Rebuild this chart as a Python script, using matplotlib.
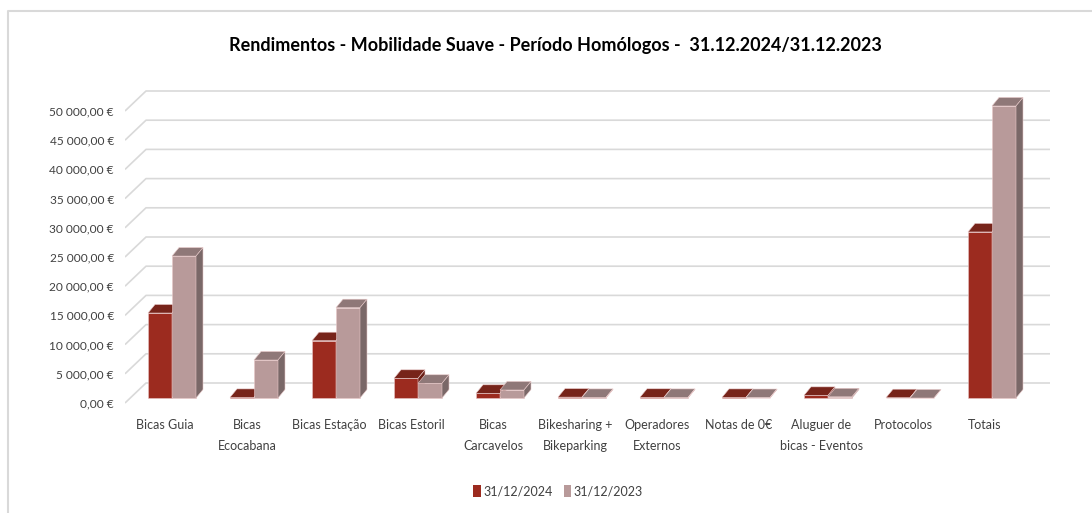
import matplotlib
matplotlib.use("Agg")
import matplotlib.pyplot as plt
from matplotlib.patches import Polygon, Patch

categories = [
    "Bicas Guia", "Bicas\nEcocabana", "Bicas Estação", "Bicas Estoril",
    "Bicas\nCarcavelos", "Bikesharing +\nBikeparking", "Operadores\nExternos",
    "Notas de 0€", "Aluguer de\nbicas - Eventos", "Protocolos", "Totais",
]
values_2024 = [14550, 100, 9810, 3370, 800, 150, 120, 100, 450, 50, 28430]
values_2023 = [24300, 6500, 15460, 2520, 1370, 100, 100, 80, 200, 0, 50000]
series_labels = ["31/12/2024", "31/12/2023"]
y_ticks = list(range(0, 50001, 5000))

FONT = ["Lato", "DejaVu Sans"]
plt.rcParams["font.family"] = FONT

# colours: front, top, side
COL_2024 = ("#9c2b1f", "#77241a", "#6a1f16")
COL_2023 = ("#b89a9a", "#8f7878", "#7a6868")
GRID = "#d9d9d9"
TXT = "#404040"

# scale helpers (pixels -> data units)
PX_CAT = 82.0
PXV = 50000 / 292.0

W, H = 1092, 513
fig = plt.figure(figsize=(W / 100, H / 100), dpi=100)
ax = fig.add_axes([125 / W, 1 - 415 / H, (1050 - 125) / W, (415 - 80) / H])
x_left, x_right = -40 / PX_CAT, 885 / PX_CAT
ax.set_xlim(x_left, x_right)
ax.set_ylim(-12 * PXV, 323 * PXV)
for s in ax.spines.values():
    s.set_visible(False)

# gridlines: short diagonal on the side wall, then flat on the back wall
back_dx, back_dy = 21 / PX_CAT, 20 * PXV
for v in y_ticks:
    ax.plot([x_left, x_left + back_dx, x_right], [v, v + back_dy, v + back_dy],
            color=GRID, lw=1.2, zorder=0, solid_capstyle="butt")

ax.set_yticks(y_ticks)
ax.set_yticklabels([f"{v:,.2f}".replace(",", " ").replace(".", ",") + " €" for v in y_ticks],
                   fontsize=8.6, color=TXT)
ax.tick_params(axis="y", length=0, pad=8)
ax.set_xticks(range(len(categories)))
ax.set_xticklabels(categories, fontsize=9, color=TXT, linespacing=1.85, va="top")
ax.tick_params(axis="x", length=0, pad=3)

# 3d-ish bars
bar_w = 24 / PX_CAT
shift_x, shift_y = 7 / PX_CAT, 5 * PXV     # bar front plane sits a bit behind the floor edge
dep_x, dep_y = 7 / PX_CAT, 8.5 * PXV       # bar depth


def draw_bar(x0, val, cols, z):
    front, top, side = cols
    y0 = shift_y
    y1 = shift_y + val
    ax.add_patch(Polygon([(x0, y0), (x0 + bar_w, y0), (x0 + bar_w, y1), (x0, y1)],
                         closed=True, fc=front, ec="#e8c8c8", lw=0.4, zorder=z))
    ax.add_patch(Polygon([(x0, y1), (x0 + bar_w, y1), (x0 + bar_w + dep_x, y1 + dep_y),
                          (x0 + dep_x, y1 + dep_y)],
                         closed=True, fc=top, ec="#e8c8c8", lw=0.4, zorder=z))
    ax.add_patch(Polygon([(x0 + bar_w, y0), (x0 + bar_w + dep_x, y0 + dep_y),
                          (x0 + bar_w + dep_x, y1 + dep_y), (x0 + bar_w, y1)],
                         closed=True, fc=side, ec="#e8c8c8", lw=0.4, zorder=z))


for i, (a, b) in enumerate(zip(values_2024, values_2023)):
    cx = i + shift_x
    draw_bar(cx - bar_w, a, COL_2024, 2 + 2 * i)
    draw_bar(cx, b, COL_2023, 3 + 2 * i)

fig.text(555 / W, 1 - 45 / H,
         "Rendimentos - Mobilidade Suave - Período Homólogos -  31.12.2024/31.12.2023",
         ha="center", va="center", fontsize=13, fontweight="bold", color="#000000")

handles = [Patch(fc=COL_2024[0]), Patch(fc=COL_2023[0])]
fig.legend(handles, series_labels, loc="center", bbox_to_anchor=(558 / W, 1 - 491 / H),
           ncol=2, frameon=False, fontsize=9, handlelength=0.6, handleheight=1.1,
           handletextpad=0.2, columnspacing=0.9, labelcolor=TXT)

# chart area border (top and left visible)
fig.add_artist(plt.Line2D([8 / W, 8 / W, 1], [0, 1 - 11 / H, 1 - 11 / H],
                          transform=fig.transFigure, color=GRID, lw=1.5))

fig.savefig("out.png", dpi=100)
